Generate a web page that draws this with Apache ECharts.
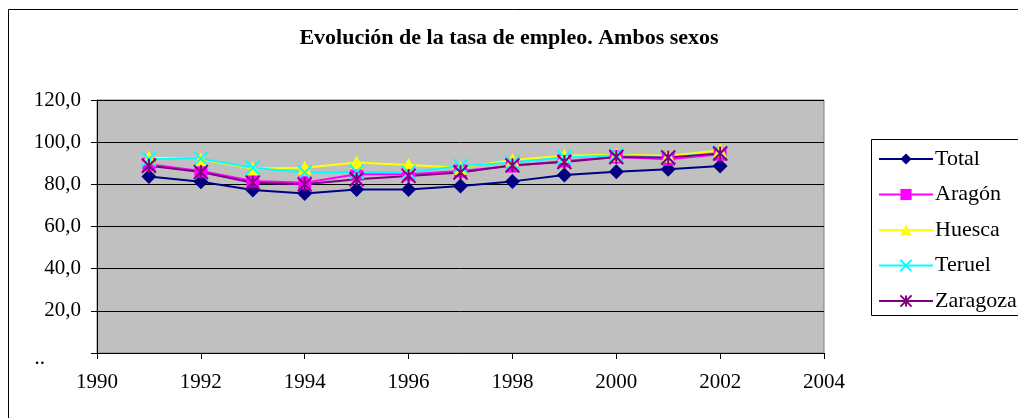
<!DOCTYPE html>
<html style="height: 100%" lang="es">
<head>
    <meta charset="UTF-8">
    <title>Evolución de la tasa de empleo</title>
</head>
<body style="height: 100%; margin: 0; background: #fff">
<div id="main1" style="height: 418px; width: 1018px"></div>

<script src="https://cdn.jsdelivr.net/npm/echarts@6/dist/echarts.min.js"></script>
<script type="text/javascript">

    // años y tasas
    var years = [1991, 1992, 1993, 1994, 1995, 1996, 1997, 1998, 1999, 2000, 2001, 2002];
    var total    = [83.7, 81.2, 77.3, 75.7, 77.6, 77.6, 79.2, 81.4, 84.4, 86.0, 87.1, 88.7];
    var aragon   = [89.5, 86.3, 81.6, 80.8, 84.8, 84.8, 86.3, 88.7, 91.1, 93.0, 91.9, 94.3];
    var huesca   = [92.7, 91.9, 87.5, 87.9, 90.3, 89.2, 87.9, 91.6, 93.5, 94.0, 93.5, 96.2];
    var teruel   = [91.9, 92.2, 87.9, 85.6, 85.9, 85.6, 88.7, 90.3, 92.7, 93.8, 92.7, 94.8];
    var zaragoza = [88.8, 85.8, 80.8, 80.0, 82.4, 84.0, 85.6, 89.0, 90.6, 93.0, 92.7, 94.6];

    var fuente = 'Liberation Serif';

    function pares(vals) {
        return years.map(function (y, i) { return [y, vals[i]]; });
    }

    function serie(nombre, vals, color, simbolo, tam, borde) {
        return {
            name: nombre,
            type: 'line',
            data: pares(vals),
            symbol: simbolo,
            symbolSize: tam,
            lineStyle: {color: color, width: 2},
            itemStyle: {color: color, borderColor: color, borderWidth: borde},
            animation: false
        };
    }

    var myChart1 = echarts.init(document.getElementById('main1'));
    var option = {
        backgroundColor: '#fff',
        textStyle: {fontFamily: fuente},
        title: {
            text: 'Evolución de la tasa de empleo. Ambos sexos',
            left: 'center',
            top: 27,
            padding: 0,
            textStyle: {fontFamily: fuente, fontSize: 22, fontWeight: 'bold', color: '#000'}
        },
        graphic: [
            // marco exterior
            {type: 'rect', shape: {x: 8.5, y: 9.5, width: 1100, height: 500}, style: {fill: null, stroke: '#000', lineWidth: 1}},
            // caja de leyenda
            {type: 'rect', shape: {x: 871.5, y: 139.5, width: 200, height: 176}, style: {fill: '#fff', stroke: '#000', lineWidth: 1}, z: 0}
        ],
        legend: {
            orient: 'vertical',
            left: 878,
            top: 148,
            padding: 0,
            itemWidth: 54,
            itemHeight: 14,
            itemGap: 13.5,
            textStyle: {fontFamily: fuente, fontSize: 22, lineHeight: 20, color: '#000', padding: [0, 0, 0, -3]},
            data: ['Total', 'Aragón', 'Huesca', 'Teruel', 'Zaragoza']
        },
        grid: {
            left: 97,
            top: 100,
            right: 1018 - 824,
            bottom: 418 - 353,
            show: true,
            backgroundColor: '#c0c0c0',
            borderColor: '#808080',
            borderWidth: 1
        },
        xAxis: {
            type: 'value',
            min: 1990,
            max: 2004,
            interval: 2,
            axisLine: {lineStyle: {color: '#000'}},
            axisTick: {show: true, length: 6, lineStyle: {color: '#000'}},
            splitLine: {show: false},
            axisLabel: {
                fontFamily: fuente, fontSize: 21, color: '#000', margin: 19,
                formatter: function (v) { return String(v); }
            }
        },
        yAxis: {
            type: 'value',
            min: 0,
            max: 120,
            interval: 20,
            axisLine: {show: true, lineStyle: {color: '#000'}},
            axisTick: {show: true, length: 6, lineStyle: {color: '#000'}},
            splitLine: {lineStyle: {color: '#000', width: 1}},
            axisLabel: {
                fontFamily: fuente, fontSize: 21, color: '#000', margin: 16,
                formatter: function (v) { return v === 0 ? '{d|..}' : v.toFixed(1).replace('.', ','); },
                rich: {d: {fontFamily: fuente, fontSize: 21, color: '#000', padding: [10, 36, 0, 0]}}
            }
        },
        series: [
            serie('Total', total, '#000080', 'diamond', 15, 0),
            serie('Aragón', aragon, '#ff00ff', 'rect', 13, 0),
            serie('Huesca', huesca, '#ffff00', 'triangle', 14, 0),
            serie('Teruel', teruel, '#00ffff', 'path://M0,0L10,10M10,0L0,10', 14, 2),
            serie('Zaragoza', zaragoza, '#800080', 'path://M0,0L10,10M10,0L0,10M5,0L5,10', 14, 2)
        ]
    };

    myChart1.setOption(option);

</script>
</body>
</html>
